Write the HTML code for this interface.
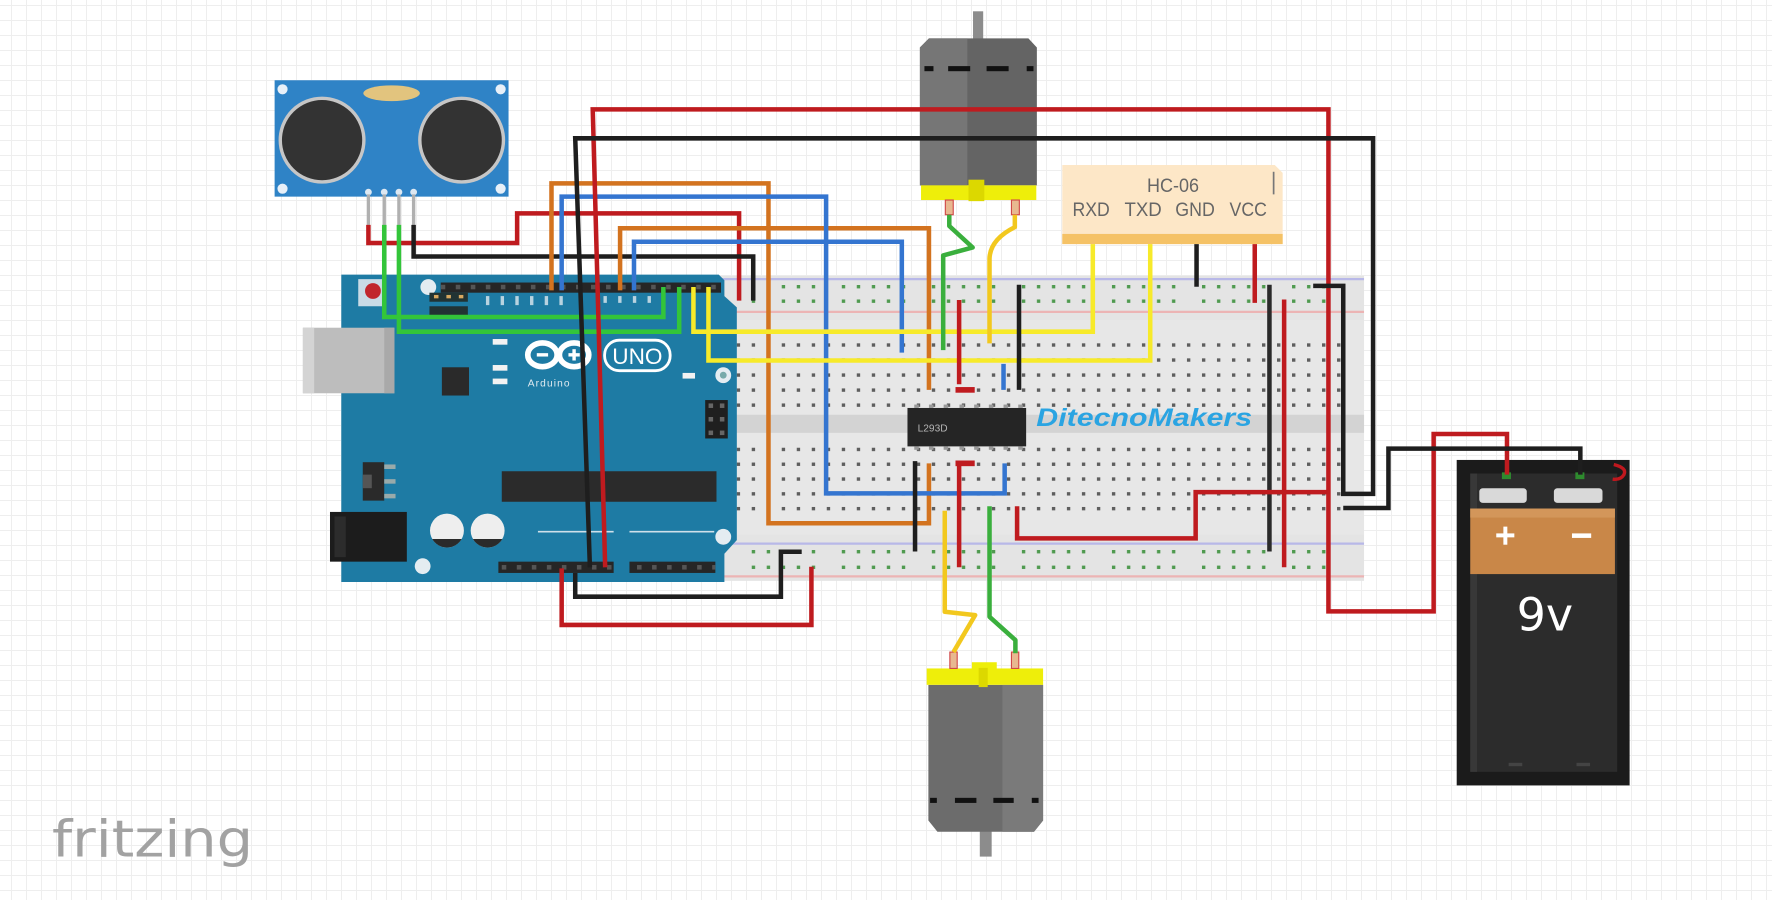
<!DOCTYPE html>
<html><head><meta charset="utf-8">
<style>
html,body{margin:0;padding:0;width:1772px;height:900px;overflow:hidden;}
body{background-color:#fff;background-image:linear-gradient(#eeeeee 1px,transparent 1px),linear-gradient(90deg,#eeeeee 1px,transparent 1px);background-size:15px 15px;background-position:11px 5px;}
svg{position:absolute;left:0;top:0;}
</style></head><body>
<svg width="1772" height="900" viewBox="0 0 1568 796.4" preserveAspectRatio="none" xmlns="http://www.w3.org/2000/svg">
<defs>
<pattern id="pt" patternUnits="userSpaceOnUse" x="651.9" y="303.8" width="13.28" height="13.3"><rect width="3" height="3" fill="#5e5e5e"/></pattern>
<pattern id="pb" patternUnits="userSpaceOnUse" x="651.9" y="396.2" width="13.28" height="13.1"><rect width="3" height="3" fill="#5e5e5e"/></pattern>
<pattern id="prt" patternUnits="userSpaceOnUse" x="665.2" y="252.2" width="79.68" height="12.8"><rect x="0" width="3" height="3" fill="#4f9a4f"/><rect x="13.28" width="3" height="3" fill="#4f9a4f"/><rect x="26.56" width="3" height="3" fill="#4f9a4f"/><rect x="39.84" width="3" height="3" fill="#4f9a4f"/><rect x="53.12" width="3" height="3" fill="#4f9a4f"/></pattern>
<pattern id="prb" patternUnits="userSpaceOnUse" x="665.2" y="486.7" width="79.68" height="13.8"><rect x="0" width="3" height="3" fill="#4f9a4f"/><rect x="13.28" width="3" height="3" fill="#4f9a4f"/><rect x="26.56" width="3" height="3" fill="#4f9a4f"/><rect x="39.84" width="3" height="3" fill="#4f9a4f"/><rect x="53.12" width="3" height="3" fill="#4f9a4f"/></pattern>
<pattern id="hdr" patternUnits="userSpaceOnUse" x="390" y="252" width="13.3" height="10"><rect x="0" y="0" width="4" height="4" fill="#555"/></pattern>
<pattern id="hdrb" patternUnits="userSpaceOnUse" x="444" y="500" width="13.3" height="10"><rect x="0" y="0" width="4" height="4" fill="#555"/></pattern>
</defs>

<!-- Breadboard -->
<rect x="622" y="244" width="585" height="270" fill="#e4e4e4"/>
<rect x="622" y="283" width="585" height="190" fill="#e7e7e7"/>
<rect x="622" y="367" width="585" height="16" fill="#d3d3d3"/>
<line x1="622" y1="247" x2="1207" y2="247" stroke="#b8b8e8" stroke-width="2"/>
<line x1="622" y1="276" x2="1207" y2="276" stroke="#ecb4b4" stroke-width="2"/>
<line x1="622" y1="481" x2="1207" y2="481" stroke="#b8b8e8" stroke-width="2"/>
<line x1="622" y1="510" x2="1207" y2="510" stroke="#ecb4b4" stroke-width="2"/>
<rect x="650" y="302" width="545" height="59" fill="url(#pt)"/>
<rect x="650" y="395" width="545" height="59" fill="url(#pb)"/>
<rect x="660" y="251" width="520" height="18" fill="url(#prt)"/>
<rect x="660" y="485" width="520" height="19" fill="url(#prb)"/>

<!-- IC -->
<rect x="803" y="361" width="105" height="34" fill="#252525"/>
<g fill="#9a9a9a">
<rect x="809" y="358" width="4" height="3"/><rect x="822" y="358" width="4" height="3"/><rect x="835" y="358" width="4" height="3"/><rect x="849" y="358" width="4" height="3"/><rect x="862" y="358" width="4" height="3"/><rect x="875" y="358" width="4" height="3"/><rect x="888" y="358" width="4" height="3"/><rect x="901" y="358" width="4" height="3"/>
<rect x="809" y="395" width="4" height="3"/><rect x="822" y="395" width="4" height="3"/><rect x="835" y="395" width="4" height="3"/><rect x="849" y="395" width="4" height="3"/><rect x="862" y="395" width="4" height="3"/><rect x="875" y="395" width="4" height="3"/><rect x="888" y="395" width="4" height="3"/><rect x="901" y="395" width="4" height="3"/>
</g>
<text x="812" y="382" font-family="Liberation Sans, sans-serif" font-size="9" fill="#b5b5b5">L293D</text>

<text x="917" y="377" font-family="Liberation Sans, sans-serif" font-weight="bold" font-style="italic" font-size="22" fill="#2aa4e2" textLength="191" lengthAdjust="spacingAndGlyphs">DitecnoMakers</text>

<!-- Arduino -->
<path d="M302,243 H636 L641,248 V262 L652,272 V478 L641,490 V515 H302 Z" fill="#1e7ba4"/>
<rect x="268" y="290" width="81" height="58" fill="#bdbdbd"/>
<rect x="268" y="290" width="10" height="58" fill="#d4d4d4"/>
<rect x="340" y="290" width="9" height="58" fill="#a9a9a9"/>
<rect x="292" y="453" width="68" height="44" fill="#1c1c1c"/>
<rect x="296" y="457" width="10" height="36" fill="#2c2c2c"/>
<rect x="317" y="247" width="24" height="24" fill="#c9dbe6"/>
<circle cx="330" cy="257.5" r="7" fill="#c1272d"/>
<circle cx="379" cy="254" r="7" fill="#e4ecf1"/>
<circle cx="640" cy="332" r="7" fill="#e4ecf1"/><circle cx="640" cy="332" r="3" fill="#7aa"/>
<circle cx="640" cy="475" r="7" fill="#e4ecf1"/>
<circle cx="374" cy="501" r="7" fill="#e4ecf1"/>
<rect x="390" y="250" width="248" height="9" fill="#262626"/>
<rect x="390" y="250" width="248" height="9" fill="url(#hdr)"/>
<rect x="380" y="259" width="34" height="8" fill="#233"/>
<rect x="380" y="271" width="34" height="8" fill="#233"/>
<g fill="#d8a860"><rect x="384" y="261" width="4" height="3"/><rect x="395" y="261" width="4" height="3"/><rect x="406" y="261" width="4" height="3"/></g>
<g fill="#dfeaf0" opacity="0.8">
<rect x="430" y="262" width="3" height="8"/><rect x="443" y="262" width="3" height="8"/><rect x="456" y="262" width="3" height="8"/><rect x="469" y="262" width="3" height="8"/><rect x="482" y="262" width="3" height="8"/><rect x="495" y="262" width="3" height="8"/><rect x="534" y="262" width="3" height="6"/><rect x="547" y="262" width="3" height="6"/><rect x="560" y="262" width="3" height="6"/><rect x="573" y="262" width="3" height="6"/>
</g>
<rect x="436" y="300" width="13" height="5" fill="#f2f2f2"/>
<rect x="436" y="323" width="13" height="5" fill="#f2f2f2"/>
<rect x="436" y="335" width="13" height="5" fill="#f2f2f2"/>
<rect x="604" y="330" width="11" height="5" fill="#f2f2f2"/>
<rect x="391" y="325" width="24" height="25" fill="#2a2a2a"/>
<ellipse cx="480" cy="314" rx="13" ry="10.5" fill="none" stroke="#fff" stroke-width="5"/>
<ellipse cx="508" cy="314" rx="13" ry="10.5" fill="none" stroke="#fff" stroke-width="5"/>
<rect x="475" y="312.5" width="10" height="3" fill="#fff"/>
<rect x="503" y="312.5" width="10" height="3" fill="#fff"/><rect x="506.5" y="309" width="3" height="10" fill="#fff"/>
<rect x="535" y="301" width="58" height="27" rx="13" fill="none" stroke="#fff" stroke-width="2.5"/>
<text x="564" y="322" font-family="Liberation Sans, sans-serif" font-size="20" fill="#fff" text-anchor="middle">UNO</text>
<text x="467" y="342" font-family="Liberation Sans, sans-serif" font-size="9" fill="#dfeaf0" letter-spacing="1">Arduino</text>
<rect x="624" y="354" width="20" height="34" fill="#1f1f1f"/>
<g fill="#666"><rect x="627" y="357" width="4" height="4"/><rect x="637" y="357" width="4" height="4"/><rect x="627" y="369" width="4" height="4"/><rect x="637" y="369" width="4" height="4"/><rect x="627" y="381" width="4" height="4"/><rect x="637" y="381" width="4" height="4"/></g>
<rect x="321" y="409" width="19" height="34" fill="#2a2a2a"/>
<rect x="321" y="420" width="8" height="12" fill="#555"/>
<g fill="#9aa"><rect x="340" y="411" width="10" height="4"/><rect x="340" y="424" width="10" height="4"/><rect x="340" y="437" width="10" height="4"/></g>
<rect x="444" y="417" width="190" height="27" fill="#2b2b2b"/>
<circle cx="395.5" cy="469.5" r="15" fill="#eeeeee"/>
<path d="M382.5,477 A15,15 0 0 0 408.5,477 Z" fill="#2a2a2a"/>
<circle cx="431.5" cy="469.5" r="15" fill="#eeeeee"/>
<path d="M418.5,477 A15,15 0 0 0 444.5,477 Z" fill="#2a2a2a"/>
<line x1="476" y1="470.5" x2="543" y2="470.5" stroke="#cfe0ea" stroke-width="1.5"/>
<line x1="557" y1="470.5" x2="632" y2="470.5" stroke="#cfe0ea" stroke-width="1.5"/>
<rect x="441" y="497" width="102" height="10" fill="#262626"/>
<rect x="441" y="497" width="102" height="10" fill="url(#hdrb)"/>
<rect x="557" y="497" width="76" height="10" fill="#262626"/>
<rect x="557" y="497" width="76" height="10" fill="url(#hdrb)"/>

<!-- Ultrasonic sensor -->
<rect x="243" y="71" width="207" height="103" fill="#2f83c6"/>
<circle cx="285" cy="124" r="37" fill="#333" stroke="#c6c6c6" stroke-width="3"/>
<circle cx="408.5" cy="124" r="37" fill="#333" stroke="#c6c6c6" stroke-width="3"/>
<ellipse cx="346.5" cy="82.5" rx="25" ry="7" fill="#e2c47e"/>
<circle cx="250" cy="79" r="4.5" fill="#e8f0f8"/><circle cx="443" cy="79" r="4.5" fill="#e8f0f8"/>
<circle cx="250" cy="167" r="4.5" fill="#e8f0f8"/><circle cx="443" cy="167" r="4.5" fill="#e8f0f8"/>
<g fill="#dde8f2"><circle cx="326" cy="170" r="3"/><circle cx="340" cy="170" r="3"/><circle cx="353" cy="170" r="3"/><circle cx="366" cy="170" r="3"/></g>
<g stroke="#b0b0b0" stroke-width="3"><line x1="326" y1="172" x2="326" y2="201"/><line x1="340" y1="172" x2="340" y2="201"/><line x1="353" y1="172" x2="353" y2="201"/><line x1="366" y1="172" x2="366" y2="201"/></g>

<!-- HC-06 -->
<path d="M940,146 H1128 L1135,153 V216 H940 Z" fill="#fde7c7"/>
<rect x="940" y="207" width="195" height="9" fill="#f5c266"/>
<line x1="1127" y1="152" x2="1127" y2="172" stroke="#777" stroke-width="1.5"/>
<text x="1038" y="170" font-family="Liberation Sans, sans-serif" font-size="17" fill="#666" text-anchor="middle" textLength="46" lengthAdjust="spacingAndGlyphs">HC-06</text>
<g font-family="Liberation Sans, sans-serif" font-size="17" fill="#666">
<text x="949" y="191" textLength="33" lengthAdjust="spacingAndGlyphs">RXD</text>
<text x="995" y="191" textLength="33" lengthAdjust="spacingAndGlyphs">TXD</text>
<text x="1040" y="191" textLength="35" lengthAdjust="spacingAndGlyphs">GND</text>
<text x="1088" y="191" textLength="33" lengthAdjust="spacingAndGlyphs">VCC</text>
</g>

<!-- Top motor -->
<rect x="861" y="10" width="9" height="25" fill="#8c8c8c"/>
<path d="M822,34 H910 L917.5,42 V164 H814 V42 Z" fill="#646464"/>
<path d="M822,34 H856 V164 H814 V42 Z" fill="#767676"/>
<g fill="#111"><rect x="818" y="58.5" width="8" height="4.5"/><rect x="839" y="58.5" width="19.5" height="4.5"/><rect x="873" y="58.5" width="19.5" height="4.5"/><rect x="908.5" y="58.5" width="6" height="4.5"/></g>
<rect x="815" y="164" width="102" height="13" fill="#eeee0a"/>
<rect x="857" y="159" width="14" height="19" fill="#dcd800"/>
<rect x="836.5" y="177" width="7" height="13" fill="#e8b890" stroke="#d04848" stroke-width="1"/>
<rect x="895" y="177" width="7" height="13" fill="#e8b890" stroke="#d04848" stroke-width="1"/>

<!-- Bottom motor -->
<rect x="867" y="735" width="10.5" height="23" fill="#8c8c8c"/>
<path d="M821.5,606 H923 V726 L915,736 H829.5 L821.5,726 Z" fill="#6c6c6c"/>
<path d="M887,606 H923 V726 L915,736 H887 Z" fill="#7a7a7a"/>
<g fill="#111"><rect x="823" y="706" width="6" height="4.5"/><rect x="845" y="706" width="19" height="4.5"/><rect x="879" y="706" width="18" height="4.5"/><rect x="913" y="706" width="6" height="4.5"/></g>
<rect x="820" y="591.5" width="103" height="14.5" fill="#eeee0a"/>
<rect x="860" y="586" width="22" height="8" fill="#eeee0a"/>
<rect x="866" y="591" width="8" height="17" fill="#dcd800"/>
<rect x="840.5" y="577" width="6.5" height="14.5" fill="#e8b890" stroke="#d04848" stroke-width="1"/>
<rect x="895" y="577" width="6.5" height="14.5" fill="#e8b890" stroke="#d04848" stroke-width="1"/>

<!-- Battery -->
<rect x="1289" y="407" width="153" height="288" fill="#1b1b1b"/>
<rect x="1301" y="419" width="130" height="264" fill="#2c2c2c"/>
<rect x="1301" y="419" width="6" height="264" fill="#383838"/>
<rect x="1309" y="432" width="42" height="13" rx="3" fill="#d9d9d9"/>
<rect x="1375" y="432" width="43" height="13" rx="3" fill="#d9d9d9"/>
<rect x="1301" y="450" width="128" height="58" fill="#c98748"/>
<rect x="1301" y="450" width="128" height="8" fill="#d3965a"/>
<rect x="1324" y="472" width="16" height="3.5" fill="#fff"/><rect x="1330.3" y="466" width="3.5" height="16" fill="#fff"/>
<rect x="1391" y="472" width="17" height="4" fill="#fff"/>
<text x="1342" y="558" font-family="DejaVu Sans, Liberation Sans, sans-serif" font-size="40" fill="#fff" textLength="50" lengthAdjust="spacingAndGlyphs">9v</text>
<rect x="1335" y="675" width="12" height="3" fill="#444"/><rect x="1395" y="675" width="12" height="3" fill="#444"/>
<path d="M1428,411 Q1440,414 1437,420 Q1434,425 1427,424" fill="none" stroke="#c0181e" stroke-width="3"/>
<rect x="1329" y="418" width="8" height="6" fill="#2e8b2e"/>
<rect x="1394" y="418" width="8" height="6" fill="#2e8b2e"/>

<!-- Wires -->
<g fill="none" stroke-width="4" stroke-linejoin="miter" stroke-linecap="butt">
<!-- sensor -->
<path d="M326,199 V215 H457.6 V188.8 H654 V266" stroke="#bf1b1f"/>
<path d="M366,199 V227 H666.5 V266" stroke="#1e1e1e"/>
<path d="M340,199 V280.5 H587 V254" stroke="#33c53a"/>
<path d="M353,199 V293.5 H601 V254" stroke="#33c53a"/>
<!-- orange / blue -->
<path d="M488,257 V162.3 H680 V463 H822 V410" stroke="#d3731f"/>
<path d="M548.7,257 V202 H822 V345" stroke="#d3731f"/>
<path d="M497,257 V174 H731 V436.6 H889 V410" stroke="#3475d0"/>
<path d="M561,257 V213.9 H798 V312" stroke="#3475d0"/>
<path d="M888,322 V345" stroke="#3475d0"/>
<!-- yellow to HC-06 -->
<path d="M613.6,254 V293.5 H967 V216" stroke="#f7ea2a"/>
<path d="M626.9,254 V319 H1017.8 V216" stroke="#f7ea2a"/>
<path d="M1058.8,216 V253.7" stroke="#1e1e1e"/>
<path d="M1110.3,216 V268" stroke="#bf1b1f"/>
<!-- motor wires -->
<path d="M840,190 V200 L860.7,219 L834.6,226 V309.8" stroke="#3aaf3d" stroke-linejoin="round"/>
<path d="M898,190 V201 Q876,212 875.6,229 V303.8" stroke="#f2c81e" stroke-linejoin="round"/>
<path d="M836,452 V541.3 L862.9,544.3 L843.7,577" stroke="#f2c81e" stroke-linejoin="round"/>
<path d="M875.6,448 V545.8 L898.5,566.4 V578" stroke="#3aaf3d" stroke-linejoin="round"/>
<!-- breadboard jumpers -->
<path d="M901.7,252 V345" stroke="#1e1e1e"/>
<path d="M848.7,265.5 V340" stroke="#bf1b1f"/>
<path d="M848.7,410 V502" stroke="#bf1b1f"/>
<path d="M809.7,408 V488" stroke="#1e1e1e"/>
<path d="M1123.3,252 V488" stroke="#2a2a2a"/>
<path d="M1136.3,265 V502" stroke="#bf1b1f"/>
<path d="M900,448 V476.4 H1058 V435.5 H1175.5" stroke="#bf1b1f"/>
<!-- long power wires -->
<path d="M535.5,502 L524.5,96.8 H1175.5 V541 H1268.6 V384 H1333.5 V420" stroke="#bf1b1f"/>
<path d="M522,502 L509,122.4 H1215 V437 H1188.6 V253 H1162" stroke="#1e1e1e"/>
<path d="M1188.6,449.5 H1228.6 V397 H1398.4 V420" stroke="#1e1e1e"/>
<path d="M497,503 V553 H718 V501.5" stroke="#bf1b1f"/>
<path d="M509,507 V528 H691 V488.2 H709.4" stroke="#1e1e1e"/>
</g>
<rect x="845.5" y="342.5" width="17" height="5" fill="#bf1b1f"/>
<rect x="845.5" y="407.5" width="17" height="5" fill="#bf1b1f"/>

<text x="46" y="758" font-family="DejaVu Sans, Liberation Sans, sans-serif" font-size="45" fill="#a2a2a2" textLength="178" lengthAdjust="spacingAndGlyphs">fritzing</text>
</svg>
</body></html>
